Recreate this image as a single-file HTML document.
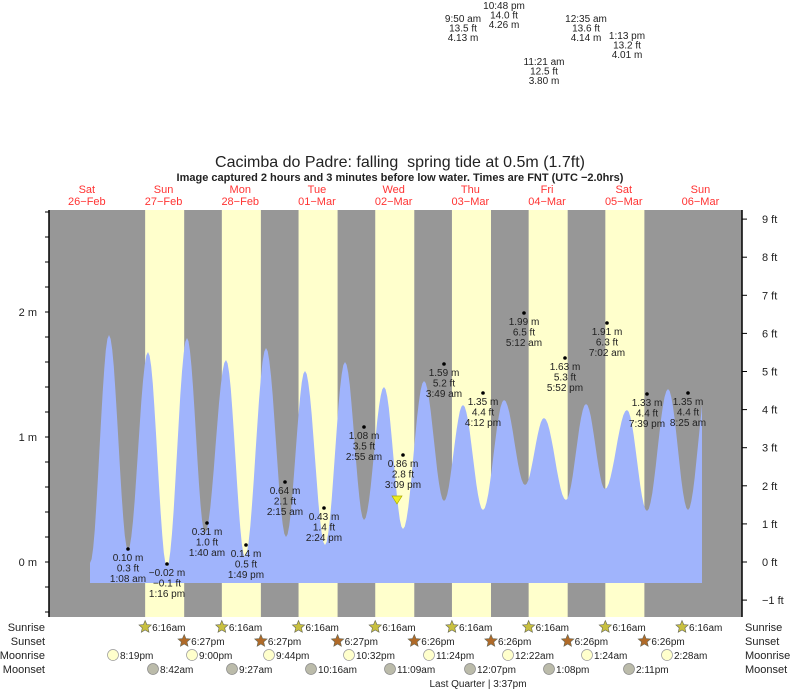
<!DOCTYPE html>
<html><head><meta charset="utf-8"><style>
body{margin:0;background:#fff;}
svg{display:block;font-family:"Liberation Sans",sans-serif;}
</style></head><body>
<svg id="s" width="793" height="691" viewBox="0 0 793 691" xmlns="http://www.w3.org/2000/svg">
<rect x="0" y="0" width="793" height="691" fill="#fff"/>
<g id="bands"></g>
<path id="tide" fill="#a0b4fc" d=""/>
<g id="ax" stroke="#000" stroke-width="1"></g>
<g id="txt" font-size="10" fill="#222" text-anchor="middle"></g>
<text x="400" y="167" font-size="16" text-anchor="middle" fill="#222">Cacimba do Padre: falling &#160;spring tide at 0.5m (1.7ft)</text>
<text x="400" y="181" font-size="11" font-weight="bold" text-anchor="middle" fill="#222">Image captured 2 hours and 3 minutes before low water. Times are FNT (UTC −2.0hrs)</text>
<polygon points="392,496 402,496 397,504" fill="#ee2" stroke="#aa0" stroke-width="0.7"/>
</svg>
<script>
var NS="http://www.w3.org/2000/svg";
function el(p,t,a,txt){var e=document.createElementNS(NS,t);for(var k in a)e.setAttribute(k,a[k]);if(txt!=null)e.textContent=txt;document.getElementById(p).appendChild(e);return e;}
var D=76.7,X0=48.5;
el("bands","rect",{x:49,y:210,width:693,height:407,fill:"#979797"});
for(var i=1;i<=7;i++){var s=X0+i*D+0.26*D,e=X0+i*D+0.769*D;el("bands","rect",{x:s,y:210,width:e-s,height:407,fill:"#ffffcc"});}
var P=[[90,563],[109,335],[128,550],[148,352],[167,567],[187,338],[205,533],[226,360],[245,557],[266,348],[286,537],[305,371],[325,545],[345,362],[364,520],[384,387],[403,529],[424,381],[444,501],[463,405],[483,510],[504,400],[525,485],[544,418],[566,500],[586,404],[605,489],[627,410],[647,511],[668,389],[688,510],[708,380]];
var d="M90,583 L90,563";
for(var i=0;i<P.length-1;i++){var a=P[i],b=P[i+1];for(var k=1;k<=12;k++){var f=k/12,x=a[0]+(b[0]-a[0])*f;if(x>702)break;var y=a[1]+(b[1]-a[1])*(1-Math.cos(Math.PI*f))/2;d+=" L"+x.toFixed(1)+","+y.toFixed(1);}}
d+=" L702,405 L702,583 Z";
document.getElementById("tide").setAttribute("d",d);
el("ax","line",{x1:49,y1:210,x2:49,y2:617,"stroke-width":1.5});
for(var y=562;y>=210;y-=25){el("ax","line",{x1:45,y1:y,x2:49,y2:y});}
for(var y=587;y<=617;y+=25){el("ax","line",{x1:45,y1:y,x2:49,y2:y});}
el("ax","line",{x1:742,y1:210,x2:742,y2:617,"stroke-width":1.5});
for(var f=-1;f<=9;f++){var y=562-f*38.1;el("ax","line",{x1:742,y1:y,x2:747,y2:y});el("txt","text",{x:762,y:y+4,"font-size":11,"text-anchor":"start"},(f<0?"−1":f)+" ft");}
[["2 m",312],["1 m",437],["0 m",562]].forEach(function(t){el("txt","text",{x:37,y:t[1]+4,"font-size":11,"text-anchor":"end"},t[0]);});
var days=[["Sat","26−Feb"],["Sun","27−Feb"],["Mon","28−Feb"],["Tue","01−Mar"],["Wed","02−Mar"],["Thu","03−Mar"],["Fri","04−Mar"],["Sat","05−Mar"],["Sun","06−Mar"]];
days.forEach(function(dd,i){var x=X0+D*(i+0.5);el("txt","text",{x:x,y:193,"font-size":11,fill:"#f33"},dd[0]);el("txt","text",{x:x,y:205,"font-size":11,fill:"#f33"},dd[1]);});
var L=[[128,549,"0.10 m","0.3 ft","1:08 am"],[167,564,"−0.02 m","−0.1 ft","1:16 pm"],[207,523,"0.31 m","1.0 ft","1:40 am"],[246,545,"0.14 m","0.5 ft","1:49 pm"],[285,482,"0.64 m","2.1 ft","2:15 am"],[324,508,"0.43 m","1.4 ft","2:24 pm"],[364,427,"1.08 m","3.5 ft","2:55 am"],[403,455,"0.86 m","2.8 ft","3:09 pm"],[444,364,"1.59 m","5.2 ft","3:49 am"],[483,393,"1.35 m","4.4 ft","4:12 pm"],[524,313,"1.99 m","6.5 ft","5:12 am"],[565,358,"1.63 m","5.3 ft","5:52 pm"],[607,323,"1.91 m","6.3 ft","7:02 am"],[647,394,"1.33 m","4.4 ft","7:39 pm"],[688,393,"1.35 m","4.4 ft","8:25 am"]];
L.forEach(function(l){el("txt","circle",{cx:l[0],cy:l[1],r:1.8,fill:"#000"});for(var j=0;j<3;j++)el("txt","text",{x:l[0],y:l[1]+12+j*10.5},l[2+j]);});
var T=[[463,22,"9:50 am","13.5 ft","4.13 m"],[504,9,"10:48 pm","14.0 ft","4.26 m"],[544,65,"11:21 am","12.5 ft","3.80 m"],[586,22,"12:35 am","13.6 ft","4.14 m"],[627,39,"1:13 pm","13.2 ft","4.01 m"]];
T.forEach(function(t){for(var j=0;j<3;j++)el("txt","text",{x:t[0],y:t[1]+j*9.5},t[2+j]);});
[["Sunrise",631],["Sunset",645],["Moonrise",659],["Moonset",673]].forEach(function(r){el("txt","text",{x:45,y:r[1],"font-size":11,"text-anchor":"end"},r[0]);el("txt","text",{x:745,y:r[1],"font-size":11,"text-anchor":"start"},r[0]);});
function star(cx,cy,fill){var p=[];for(var k=0;k<10;k++){var r=k%2?3:6.5,a=Math.PI*k/5-Math.PI/2;p.push((cx+r*Math.cos(a)).toFixed(1)+","+(cy+r*Math.sin(a)).toFixed(1));}el("txt","polygon",{points:p.join(" "),fill:fill,stroke:"#665",'stroke-width':0.6});}
for(var i=1;i<=8;i++){var x=X0+i*D+0.26*D;star(x,627,"#c8c040");el("txt","text",{x:x+7,y:631,"text-anchor":"start"},"6:16am");}
for(var i=1;i<=7;i++){var x=X0+i*D+0.769*D;star(x,641,"#b06a28");el("txt","text",{x:x+7,y:645,"text-anchor":"start"},i<4?"6:27pm":"6:26pm");}
[[113,"8:19pm"],[192,"9:00pm"],[269,"9:44pm"],[349,"10:32pm"],[429,"11:24pm"],[508,"12:22am"],[587,"1:24am"],[667,"2:28am"]].forEach(function(m){el("txt","circle",{cx:m[0],cy:655,r:5.5,fill:"#ffffcc",stroke:"#999","stroke-width":0.7});el("txt","text",{x:m[0]+7,y:659,"text-anchor":"start"},m[1]);});
[[153,"8:42am"],[232,"9:27am"],[311,"10:16am"],[390,"11:09am"],[470,"12:07pm"],[549,"1:08pm"],[629,"2:11pm"]].forEach(function(m){el("txt","circle",{cx:m[0],cy:669,r:5.5,fill:"#bbbbaa",stroke:"#888","stroke-width":0.7});el("txt","text",{x:m[0]+7,y:673,"text-anchor":"start"},m[1]);});
el("txt","text",{x:478,y:687},"Last Quarter | 3:37pm");
</script>
</body></html>
